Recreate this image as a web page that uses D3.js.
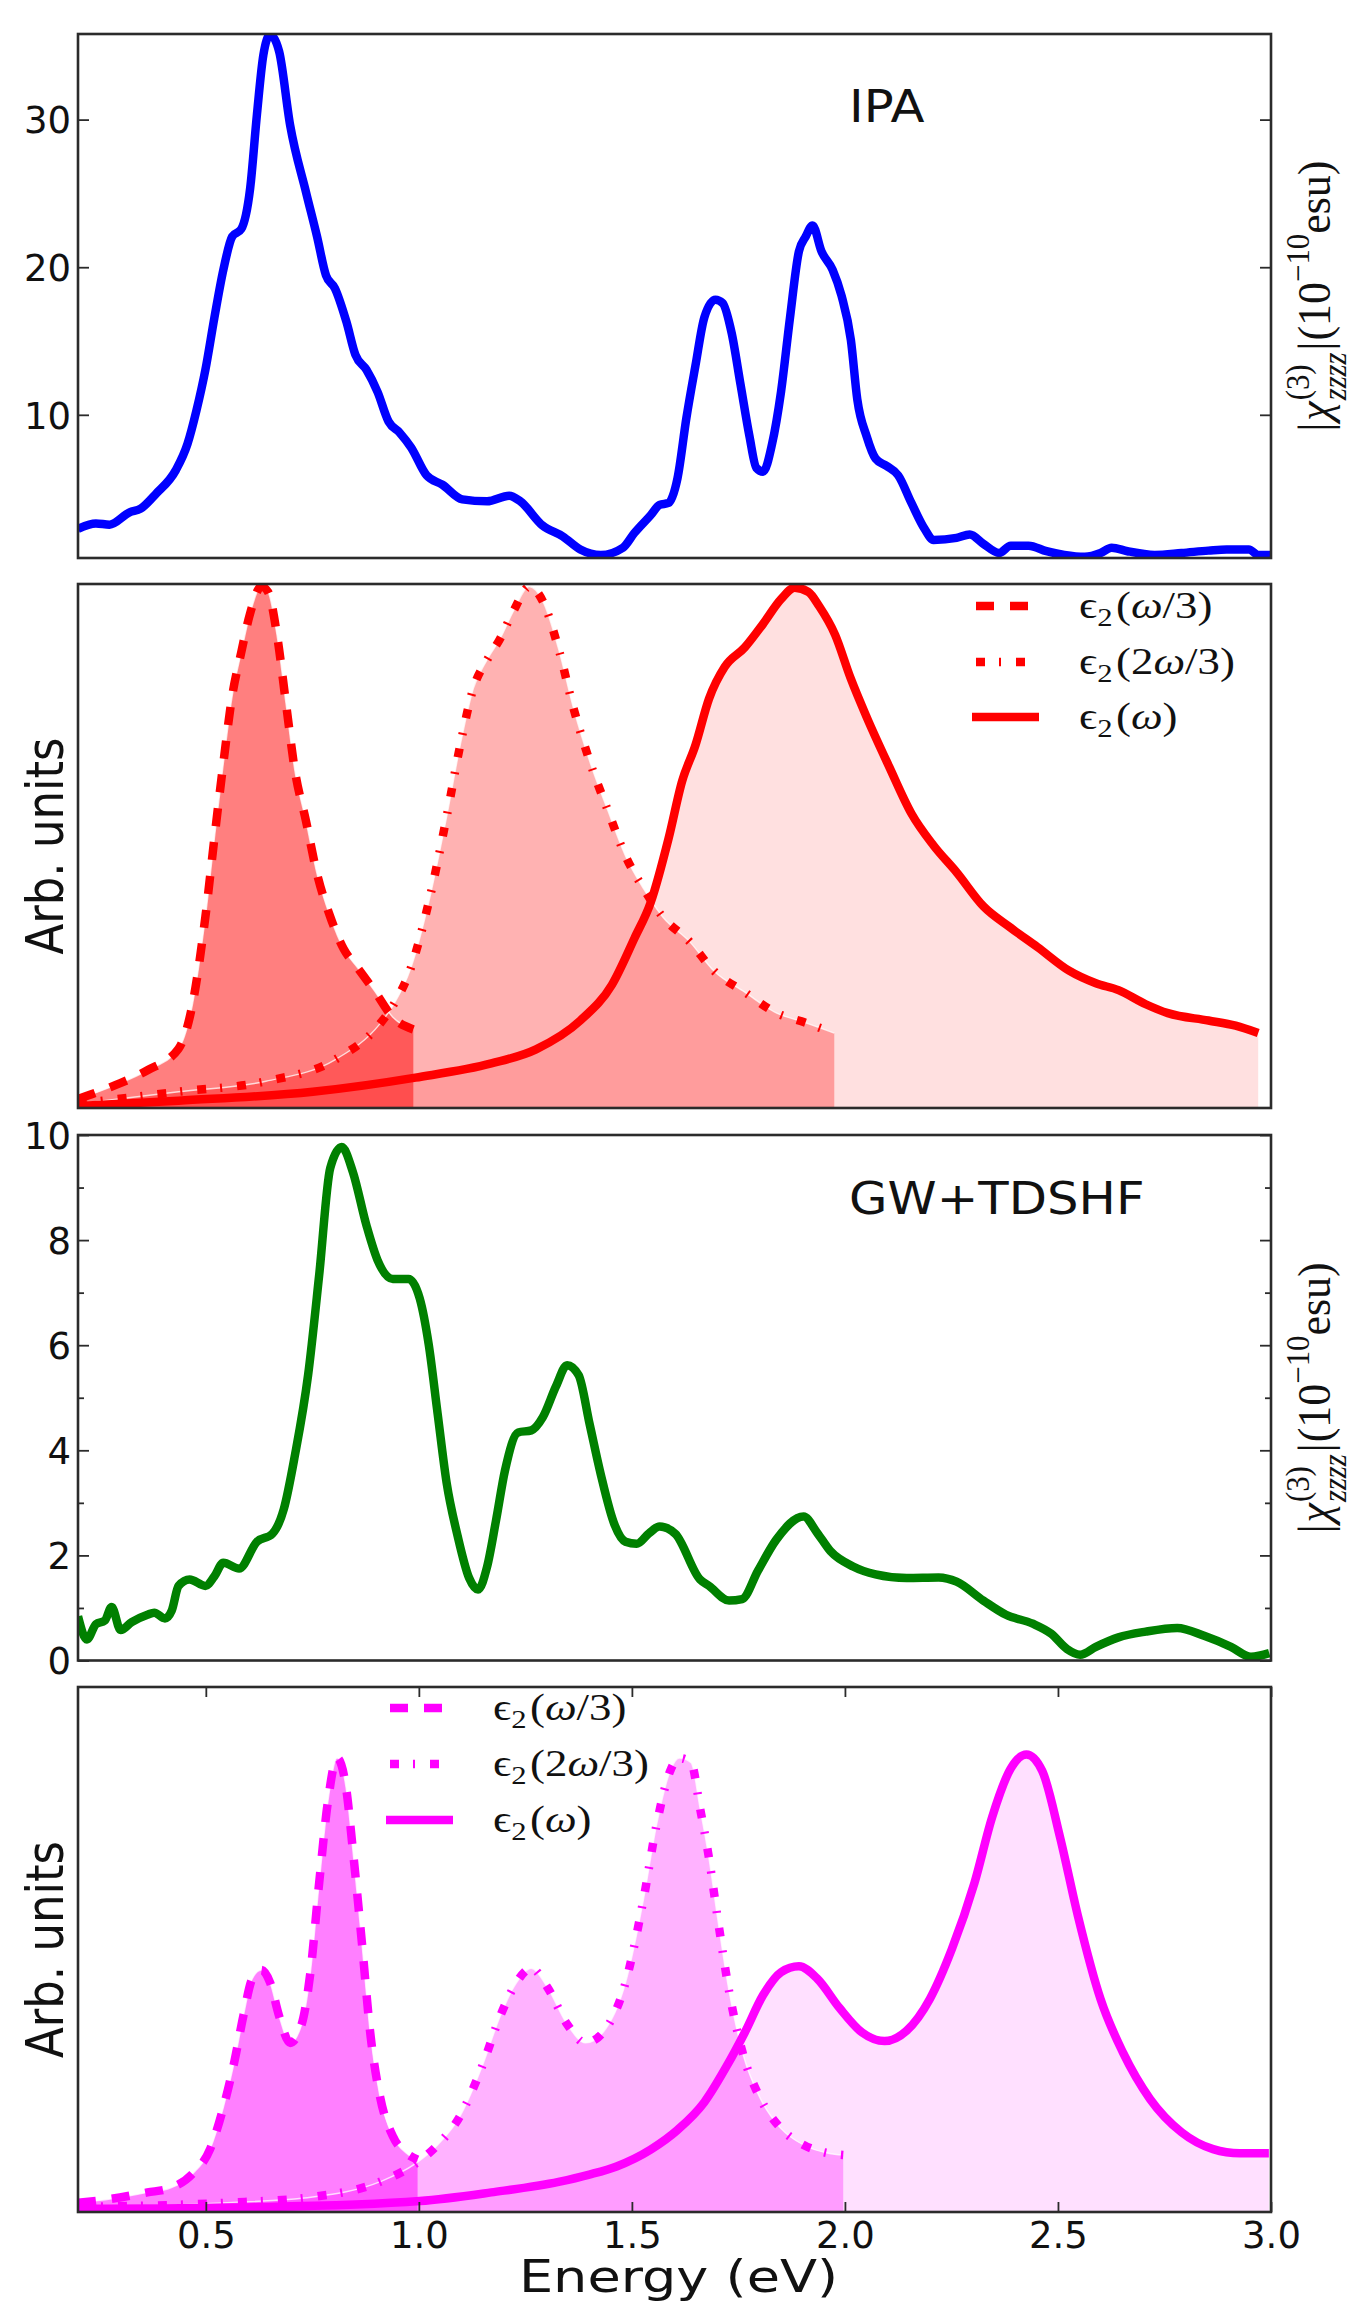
<!DOCTYPE html>
<html>
<head>
<meta charset="utf-8">
<script src="https://cdn.jsdelivr.net/npm/d3@7"></script>
<style>
  body { margin: 0; background: #fff; }
  svg { display: block; }
</style>
</head>
<body>
<svg id="fig" width="1355" height="2302"></svg>
<script>
// ---------------- data ----------------
const energyTicks = [0.5, 1.0, 1.5, 2.0, 2.5, 3.0];
const ipaTicks = [10, 20, 30];
const gwTicks = [0, 2, 4, 6, 8, 10];
const gwMinorTicks = [1, 3, 5, 7, 9];
const panelTags = ["IPA", "GW+TDSHF"];
const epsNames = ["ω/3", "2ω/3", "ω"];

// |chi(3)_zzzz| (1e-10 esu), independent-particle approximation
const ipaE = [0.200,0.242,0.274,0.321,0.347,0.383,0.430,0.457,0.478,0.499,0.520,0.541,0.562,0.583,0.604,0.620,0.635,0.651,0.672,0.698,0.735,0.761,0.782,0.803,0.830,0.851,0.877,0.903,0.929,0.955,0.982,1.018,1.055,1.102,1.160,1.212,1.238,1.290,1.338,1.379,1.427,1.479,1.506,1.544,1.565,1.586,1.607,1.628,1.649,1.670,1.696,1.713,1.734,1.755,1.776,1.792,1.808,1.829,1.850,1.871,1.892,1.908,1.924,1.945,1.971,1.992,2.014,2.029,2.051,2.072,2.098,2.125,2.156,2.187,2.208,2.262,2.293,2.325,2.362,2.389,2.431,2.473,2.515,2.563,2.600,2.626,2.663,2.727,2.790,2.853,2.896,2.948,2.970,3.000];
const ipaChi = [2.27,2.64,2.56,3.39,3.64,4.65,6.27,8.03,10.29,13.05,16.56,19.8,22.08,22.58,25.34,30.36,34.37,35.76,34.62,29.6,25.1,22.08,19.45,18.57,16.3,14.07,13.05,11.56,9.54,8.79,7.78,5.9,5.27,4.27,4.14,4.52,4.14,2.51,1.76,0.88,0.5,1.0,2.0,3.2,3.9,4.03,5.7,9.8,13.3,16.6,17.8,17.57,15.56,12.05,8.54,6.41,6.15,8.03,11.56,16.56,21.07,22.08,22.83,21.07,19.83,18.07,15.06,11.05,8.54,7.03,6.53,5.9,4.03,2.27,1.52,1.66,1.89,1.26,0.64,1.13,1.13,0.76,0.51,0.38,0.64,1.0,0.76,0.51,0.64,0.8,0.88,0.88,0.51,0.51];

// |chi(3)_zzzz| (1e-10 esu), GW+TDSHF
const gwE = [0.200,0.221,0.242,0.263,0.279,0.300,0.326,0.363,0.379,0.404,0.420,0.436,0.462,0.499,0.520,0.541,0.578,0.620,0.656,0.683,0.709,0.740,0.766,0.792,0.819,0.845,0.877,0.903,0.939,0.976,1.002,1.023,1.044,1.065,1.091,1.118,1.139,1.160,1.181,1.202,1.233,1.264,1.291,1.322,1.348,1.375,1.401,1.427,1.459,1.485,1.511,1.540,1.565,1.602,1.660,1.681,1.728,1.759,1.796,1.839,1.903,1.934,1.966,2.019,2.072,2.145,2.220,2.262,2.325,2.378,2.441,2.484,2.521,2.552,2.589,2.642,2.706,2.780,2.843,2.906,2.953,2.996];
const gwChi = [0.84,0.40,0.69,0.76,1.02,0.58,0.73,0.87,0.91,0.80,0.95,1.42,1.54,1.42,1.60,1.86,1.75,2.26,2.41,2.88,3.90,5.43,7.33,9.37,9.77,9.30,8.28,7.62,7.26,7.26,6.89,6.02,4.70,3.39,2.37,1.57,1.35,1.78,2.66,3.61,4.34,4.38,4.63,5.22,5.62,5.43,4.49,3.54,2.59,2.26,2.22,2.42,2.55,2.41,1.54,1.42,1.14,1.17,1.71,2.30,2.74,2.44,2.08,1.79,1.64,1.57,1.58,1.50,1.14,0.87,0.70,0.51,0.22,0.11,0.26,0.44,0.55,0.62,0.47,0.26,0.07,0.14];

// epsilon_2 (arb. units), IPA: at omega/3, 2omega/3 and omega
const ipaThirdE = [0.200,0.289,0.363,0.436,0.468,0.499,0.520,0.541,0.562,0.583,0.604,0.630,0.646,0.667,0.688,0.709,0.735,0.761,0.792,0.824,0.855,0.898,0.939,0.987];
const ipaThird = [0.017,0.044,0.072,0.113,0.195,0.365,0.514,0.657,0.787,0.869,0.944,0.995,0.985,0.903,0.773,0.644,0.548,0.447,0.365,0.303,0.269,0.221,0.173,0.150];
const ipaTwoThirdE = [0.200,0.436,0.641,0.803,0.908,0.939,0.982,1.023,1.065,1.097,1.128,1.160,1.191,1.223,1.259,1.291,1.328,1.364,1.400,1.443,1.485,1.527,1.572,1.636,1.692,1.765,1.840,1.903,1.975];
const ipaTwoThird = [0.008,0.031,0.051,0.092,0.160,0.195,0.269,0.392,0.555,0.692,0.801,0.855,0.896,0.950,0.995,0.967,0.876,0.760,0.664,0.569,0.481,0.419,0.365,0.317,0.262,0.221,0.181,0.164,0.143];
const ipaFullE = [0.200,0.436,0.751,0.992,1.170,1.275,1.379,1.453,1.506,1.544,1.586,1.618,1.649,1.681,1.718,1.765,1.808,1.850,1.882,1.914,1.940,1.977,2.013,2.051,2.104,2.156,2.208,2.262,2.325,2.389,2.452,2.526,2.589,2.642,2.706,2.758,2.853,2.917,2.970];
const ipaFull = [0.004,0.014,0.031,0.058,0.085,0.112,0.167,0.235,0.324,0.392,0.514,0.624,0.692,0.781,0.842,0.879,0.924,0.971,0.993,0.985,0.957,0.903,0.821,0.746,0.651,0.562,0.501,0.450,0.385,0.344,0.307,0.262,0.238,0.225,0.198,0.181,0.167,0.157,0.143];

// epsilon_2 (arb. units), GW+TDSHF: at omega/3, 2omega/3 and omega
const gwThirdE = [0.200,0.279,0.363,0.415,0.468,0.510,0.541,0.567,0.588,0.609,0.630,0.651,0.672,0.698,0.725,0.745,0.766,0.787,0.808,0.829,0.845,0.866,0.887,0.908,0.939,0.971,0.997];
const gwThird = [0.020,0.029,0.043,0.052,0.083,0.138,0.229,0.330,0.430,0.512,0.531,0.503,0.430,0.371,0.412,0.522,0.722,0.904,0.996,0.932,0.795,0.594,0.384,0.257,0.166,0.129,0.115];
const gwTwoThirdE = [0.200,0.541,0.751,0.908,0.992,1.044,1.097,1.149,1.191,1.223,1.264,1.301,1.348,1.391,1.432,1.485,1.527,1.558,1.590,1.611,1.639,1.660,1.681,1.702,1.728,1.760,1.802,1.849,1.903,1.961,1.996];
const gwTwoThird = [0.011,0.020,0.033,0.066,0.106,0.147,0.211,0.321,0.430,0.494,0.535,0.494,0.412,0.371,0.394,0.503,0.685,0.850,0.968,0.996,0.986,0.886,0.776,0.640,0.485,0.349,0.248,0.184,0.147,0.129,0.125];
const gwFullE = [0.200,0.641,1.002,1.170,1.328,1.400,1.464,1.544,1.607,1.670,1.723,1.765,1.808,1.850,1.892,1.935,1.987,2.040,2.093,2.145,2.199,2.251,2.304,2.346,2.389,2.426,2.463,2.505,2.547,2.600,2.653,2.716,2.790,2.864,2.927,2.995];
const gwFull = [0.007,0.011,0.024,0.043,0.066,0.082,0.100,0.137,0.180,0.241,0.321,0.394,0.476,0.526,0.539,0.512,0.448,0.394,0.375,0.398,0.467,0.577,0.722,0.868,0.973,1.004,0.968,0.822,0.649,0.467,0.349,0.248,0.175,0.138,0.129,0.129];

// ---------------- layout ----------------
const svg = d3.select("#fig");
const X0 = 78, X1 = 1271;
const x = d3.scaleLinear().domain([0.2, 3.0]).range([X0, X1]);

const panels = [
  { top: 34,   bottom: 558,  domain: [0.3, 35.8] },
  { top: 584,  bottom: 1108, domain: [0, 1.0] },
  { top: 1135, bottom: 1660.5, domain: [0, 10] },
  { top: 1687, bottom: 2212, domain: [0, 1.152] }
];
panels.forEach((p, i) => {
  p.y = d3.scaleLinear().domain(p.domain).range([p.bottom, p.top]);
  p.g = svg.append("g");
  const cid = "clip" + i;
  svg.append("clipPath").attr("id", cid)
    .append("rect").attr("x", X0).attr("y", p.top)
    .attr("width", X1 - X0).attr("height", p.bottom - p.top);
  p.plot = p.g.append("g").attr("clip-path", `url(#${cid})`);
});

const SANS = "DejaVu Sans, Bitstream Vera Sans, sans-serif";
const SERIF = "Liberation Serif, DejaVu Serif, serif";
const DASH = "18,16";
const DASHDOT = "9,14,2,15";
const LW = 8.5;

function pts(es, vs) { return es.map((e, i) => ({ e, v: vs[i] })); }
function lineGen(p) {
  return d3.line().x(d => x(d.e)).y(d => p.y(d.v)).curve(d3.curveMonotoneX);
}
function areaGen(p) {
  return d3.area().x(d => x(d.e)).y0(p.bottom).y1(d => p.y(d.v)).curve(d3.curveMonotoneX);
}

// ---------------- chi(3) panels ----------------
function chiPanel(p, es, vs, color) {
  p.plot.append("path").datum(pts(es, vs))
    .attr("d", lineGen(p)).attr("fill", "none")
    .attr("stroke", color).attr("stroke-width", LW)
    .attr("stroke-linejoin", "round");
}
chiPanel(panels[0], ipaE, ipaChi, "#0000ff");
chiPanel(panels[2], gwE, gwChi, "#008000");

// ---------------- epsilon_2 panels ----------------
function epsPanel(p, sets, color) {
  const alphas = [0.5, 0.3, 0.12];
  // fills, widest range first
  [2, 1, 0].forEach(k => {
    p.plot.append("path").datum(pts(sets[k][0], sets[k][1]))
      .attr("d", areaGen(p)).attr("fill", color).attr("fill-opacity", alphas[k]);
  });
  // pale edge of the filled regions
  [0, 1].forEach(k => {
    p.plot.append("path").datum(pts(sets[k][0], sets[k][1]))
      .attr("d", lineGen(p)).attr("fill", "none")
      .attr("stroke", "#fff").attr("stroke-opacity", 0.75).attr("stroke-width", 1.4);
  });
  const dashes = [DASH, DASHDOT, null];
  [0, 1, 2].forEach(k => {
    const path = p.plot.append("path").datum(pts(sets[k][0], sets[k][1]))
      .attr("d", lineGen(p)).attr("fill", "none")
      .attr("stroke", color).attr("stroke-width", LW)
      .attr("stroke-linejoin", "round").attr("stroke-linecap", "butt");
    if (dashes[k]) path.attr("stroke-dasharray", dashes[k]);
  });
}
epsPanel(panels[1], [[ipaThirdE, ipaThird], [ipaTwoThirdE, ipaTwoThird], [ipaFullE, ipaFull]], "#ff0000");
epsPanel(panels[3], [[gwThirdE, gwThird], [gwTwoThirdE, gwTwoThird], [gwFullE, gwFull]], "#ff00ff");

// ---------------- frames and ticks ----------------
panels.forEach(p => {
  p.g.append("rect").attr("x", X0).attr("y", p.top)
    .attr("width", X1 - X0).attr("height", p.bottom - p.top)
    .attr("fill", "none").attr("stroke", "#2b2b2b").attr("stroke-width", 2.6);
});

function styleAxis(sel) {
  sel.select(".domain").remove();
  sel.selectAll(".tick line").attr("stroke", "#2b2b2b").attr("stroke-width", 1.8);
  sel.selectAll(".tick text").attr("fill", "#111")
    .attr("font-family", SANS).attr("font-size", 37);
  sel.attr("font-family", null).attr("font-size", null);
}

function yTicks(p, values, size, labelled) {
  const l = p.g.append("g").attr("transform", `translate(${X0},0)`)
    .call(d3.axisLeft(p.y).tickValues(values).tickSize(-size).tickPadding(7)
      .tickFormat(labelled ? d3.format("d") : ""));
  styleAxis(l);
  l.selectAll(".tick text").attr("dy", "0.36em");
  const r = p.g.append("g").attr("transform", `translate(${X1},0)`)
    .call(d3.axisRight(p.y).tickValues(values).tickSize(-size).tickFormat(""));
  styleAxis(r);
}
yTicks(panels[0], ipaTicks, 11, true);
yTicks(panels[2], gwTicks, 11, true);
yTicks(panels[2], gwMinorTicks, 6, false);

const pb = panels[3];
const xb = pb.g.append("g").attr("transform", `translate(0,${pb.bottom})`)
  .call(d3.axisBottom(x).tickValues(energyTicks).tickSize(-10).tickPadding(10)
    .tickFormat(d3.format(".1f")));
styleAxis(xb);
const xt = pb.g.append("g").attr("transform", `translate(0,${pb.top})`)
  .call(d3.axisTop(x).tickValues(energyTicks).tickSize(-10).tickFormat(""));
styleAxis(xt);

// ---------------- texts ----------------
function stretchedText(x0, y0, sx, txt, size, anchor) {
  svg.append("text").attr("transform", `translate(${x0},${y0}) scale(${sx},1)`)
    .attr("text-anchor", anchor || "start")
    .attr("font-family", SANS).attr("font-size", size).attr("fill", "#111")
    .text(txt);
}
stretchedText(849, 122, 1.13, panelTags[0], 44);
stretchedText(849, 1214, 1.13, panelTags[1], 44);
stretchedText((X0 + X1) / 2 + 4, 2292, 1.23, "Energy (eV)", 44, "middle");

function arbLabel(p) {
  svg.append("text")
    .attr("transform", `translate(63,${(p.top + p.bottom) / 2}) scale(1.15,1) rotate(-90)`)
    .attr("text-anchor", "middle").attr("font-family", SANS)
    .attr("font-size", 45).attr("fill", "#111").text("Arb. units");
}
arbLabel(panels[1]);
arbLabel(panels[3]);

// |chi^(3)_zzzz| (10^-10 esu) on the right-hand side
function chiLabel(p) {
  const cy = (p.top + p.bottom) / 2;
  const outer = svg.append("g")
    .attr("transform", `translate(1330,${cy}) scale(1.06,1) rotate(-90)`);
  const inner = outer.append("g").attr("font-family", SERIF).attr("fill", "#111");
  const F = 44;
  let cur = 0;
  function put(t, size, dy, italic) {
    const el = inner.append("text").attr("x", cur).attr("y", dy)
      .attr("font-size", size).attr("font-style", italic ? "italic" : "normal").text(t);
    return el.node().getComputedTextLength();
  }
  cur += put("|", F, 0) + 2;
  cur += put("χ", F, 0, true) + 1;
  const wSup = put("(3)", 0.7 * F, -0.45 * F);
  const wSub = put("zzzz", 0.7 * F, 0.34 * F, true);
  cur += Math.max(wSup, wSub) + 2;
  cur += put("|", F, 0) + 1;
  cur += put("(", F, 0);
  cur += put("10", F, 0);
  cur += put("−10", 0.7 * F, -0.45 * F);
  cur += put("esu", F, 0);
  cur += put(")", F, 0);
  inner.attr("transform", `translate(${-cur / 2},0)`);
}
chiLabel(panels[0]);
chiLabel(panels[2]);

// ---------------- legends ----------------
function legend(x0, ys, color) {
  const styles = [DASH, DASHDOT, null];
  epsNames.forEach((name, k) => {
    const y0 = ys[k];
    const h = svg.append("line")
      .attr("x1", styles[k] ? x0 + 4 : x0).attr("x2", x0 + 67)
      .attr("y1", y0).attr("y2", y0)
      .attr("stroke", color).attr("stroke-width", LW).attr("stroke-linecap", "butt");
    if (styles[k]) h.attr("stroke-dasharray", styles[k]);
    const t = svg.append("text")
      .attr("transform", `translate(${x0 + 107},${y0 + 12}) scale(1.18,1)`)
      .attr("font-family", SERIF).attr("font-size", 38).attr("fill", "#111");
    t.append("tspan").text("ϵ");
    t.append("tspan").attr("font-size", 26).attr("dy", 8).text("2");
    t.append("tspan").attr("dy", -8).attr("dx", 3).text("(");
    const m = name.match(/^(\d*)(ω)(.*)$/);
    if (m[1]) t.append("tspan").text(m[1]);
    t.append("tspan").attr("font-style", "italic").text(m[2]);
    t.append("tspan").text(m[3] + ")");
  });
}
legend(972, [606, 662, 717], "#ff0000");
legend(386, [1708, 1764, 1820], "#ff00ff");
</script>
</body>
</html>
